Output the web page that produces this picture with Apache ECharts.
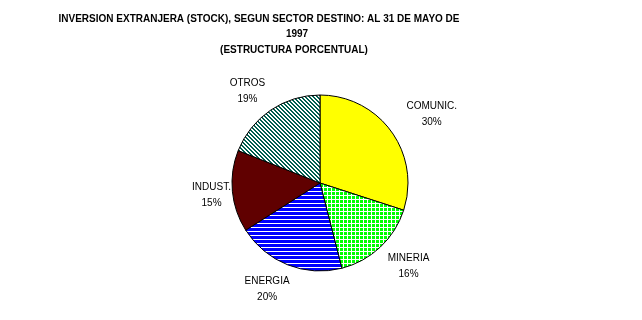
<!DOCTYPE html>
<html>
<head>
<meta charset="utf-8">
<script src="https://cdn.jsdelivr.net/npm/echarts@6/dist/echarts.min.js"></script>
<style>
html,body{margin:0;padding:0;background:#fff;}
#chart{width:642px;height:320px;}
</style>
</head>
<body>
<div id="chart"></div>
<script>
var titleLines = ['INVERSION EXTRANJERA (STOCK), SEGUN SECTOR DESTINO: AL 31 DE MAYO DE', '1997', '(ESTRUCTURA PORCENTUAL)'];
var categories = ['COMUNIC.', 'MINERIA', 'ENERGIA', 'INDUST.', 'OTROS'];
var values = [30, 16, 20, 15, 19];

// small per-label nudges (style only)
var labelNudge = [[13, 3], [5, -6], [-8, -7], [13, 1], [-4, 9]];

function makePattern(kind) {
  var c = document.createElement('canvas');
  c.width = 4; c.height = 4;
  var g = c.getContext('2d');
  g.fillStyle = '#ffffff';
  g.fillRect(0, 0, 4, 4);
  if (kind === 'grid') {
    g.fillStyle = '#00ff00';
    g.fillRect(0, 0, 3, 3);
  } else if (kind === 'hlines') {
    g.fillStyle = '#0000ff';
    g.fillRect(0, 0, 4, 3);
  } else if (kind === 'diag') {
    g.fillStyle = '#005f4f';
    for (var y = 0; y < 4; y++) {
      for (var x = 0; x < 4; x++) {
        var m = ((x - y) % 4 + 4) % 4;
        if (m === 0 || m === 1) g.fillRect(x, y, 1, 1);
      }
    }
  }
  return { image: c, repeat: 'repeat' };
}

var fills = ['#ffff00', makePattern('grid'), makePattern('hlines'), '#600000', makePattern('diag')];

var chart = echarts.init(document.getElementById('chart'), null, { renderer: 'canvas' });
var titleStyle = { fontFamily: 'Liberation Sans, Arial, sans-serif', fontSize: 10, fontWeight: 'bold', color: '#000' };
chart.setOption({
  backgroundColor: '#ffffff',
  animation: false,
  title: [
    { text: titleLines[0], left: 254, top: 9, textAlign: 'center', textStyle: titleStyle },
    { text: titleLines[1], left: 292, top: 24, textAlign: 'center', textStyle: titleStyle },
    { text: titleLines[2], left: 289, top: 40, textAlign: 'center', textStyle: titleStyle }
  ],
  series: [{
    type: 'pie',
    center: [320, 183],
    radius: 88,
    startAngle: 90,
    clockwise: true,
    avoidLabelOverlap: false,
    data: categories.map(function (name, i) {
      return { name: name, value: values[i], itemStyle: { color: fills[i] } };
    }),
    itemStyle: { borderColor: '#000', borderWidth: 1 },
    label: {
      show: true,
      position: 'outside',
      formatter: '{b}\n{d}%',
      fontFamily: 'Liberation Sans, Arial, sans-serif',
      fontSize: 10,
      lineHeight: 16,
      color: '#000',
      distanceToLabelLine: 0
    },
    labelLine: { show: false, length: 34, length2: 0 },
    labelLayout: function (p) {
      var n = labelNudge[p.dataIndex] || [0, 0];
      return { align: 'center', verticalAlign: 'middle', dx: n[0], dy: n[1] };
    },
    emphasis: { disabled: true }
  }]
});
</script>
</body>
</html>
